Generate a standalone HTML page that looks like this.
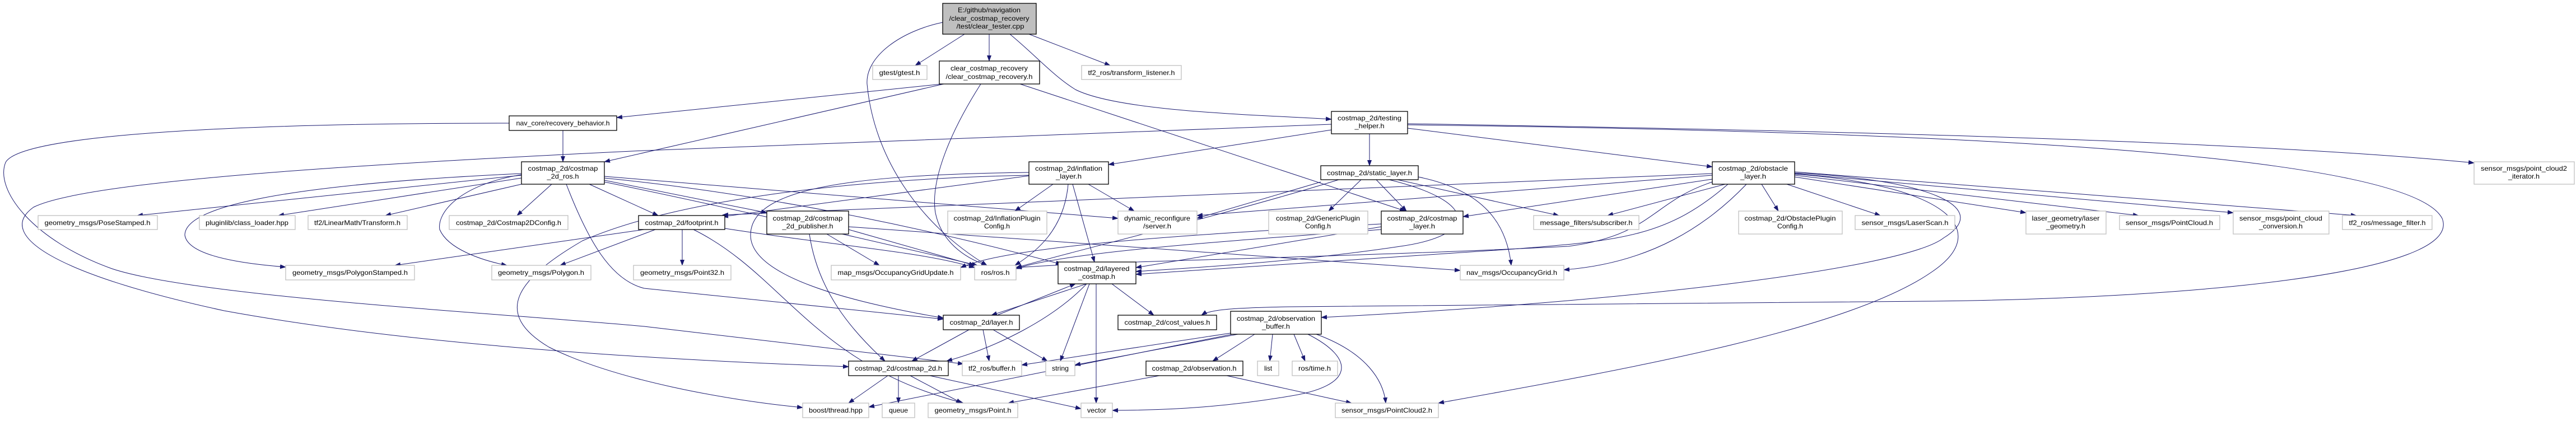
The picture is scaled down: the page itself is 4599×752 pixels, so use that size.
<!DOCTYPE html>
<html><head><meta charset="utf-8">
<style>
html,body{margin:0;padding:0;background:#fff;}
svg{display:block;}
text{font-family:"Liberation Sans",Arial,sans-serif;font-size:12px;fill:#000;}
.i{fill:#fff;stroke:#000;stroke-width:1.3;}
.e{fill:#fff;stroke:#bfbfbf;stroke-width:1.3;}
.r{fill:#bfbfbf;stroke:#000;stroke-width:1.3;}
path.ed{fill:none;stroke:#191970;stroke-width:1;marker-end:url(#a);}
</style></head>
<body>
<svg width="4599" height="752" viewBox="0 0 4599 752" xmlns="http://www.w3.org/2000/svg">
<defs><marker id="a" markerUnits="userSpaceOnUse" markerWidth="11" markerHeight="8" refX="10" refY="4" orient="auto"><path d="M0,0 L11,4 L0,8 z" fill="#191970"/></marker></defs>
<g>
<path class="ed" d="M1722,61 L1634,117"/>
<path class="ed" d="M1766,61 L1766,109"/>
<path class="ed" d="M1837,61 L1982,117"/>
<path class="ed" d="M1683,40 C1610,55 1545,100 1548,150 C1560,280 1640,400 1762,474"/>
<path class="ed" d="M1803,61 C1850,100 1880,135 1920,160 C2000,200 2250,205 2377,213"/>
<path class="ed" d="M1682,150 L1101,210"/>
<path class="ed" d="M1685,150 L1079,289"/>
<path class="ed" d="M1751,150 C1700,230 1660,320 1670,380 C1680,430 1720,460 1762,474"/>
<path class="ed" d="M1821,150 L2509,377"/>
<path class="ed" d="M1005,233 L1005,289"/>
<path class="ed" d="M909,220 C500,220 40,235 10,290 C-10,340 60,430 200,480 C350,530 900,560 1150,583 L1720,650"/>
<path class="ed" d="M931,313 L245,385"/>
<path class="ed" d="M931,318 L497,385"/>
<path class="ed" d="M931,329 L688,385"/>
<path class="ed" d="M985,329 L923,385"/>
<path class="ed" d="M931,310 C500,330 330,370 330,420 C335,455 420,470 510,477"/>
<path class="ed" d="M931,312 C820,330 780,380 785,410 C800,445 860,465 905,474"/>
<path class="ed" d="M1011,329 C1050,430 1090,500 1150,515 L1684,570"/>
<path class="ed" d="M1052,329 L1175,385"/>
<path class="ed" d="M1079,315 L1996,390"/>
<path class="ed" d="M1079,318 C1400,350 1700,420 1895,472"/>
<path class="ed" d="M1079,322 L1369,380"/>
<path class="ed" d="M1079,325 C1300,370 1600,440 1745,474"/>
<path class="ed" d="M2445,239 L2445,296"/>
<path class="ed" d="M2513,229 L3057,298"/>
<path class="ed" d="M2513,221 C3200,232 4000,250 4417,291"/>
<path class="ed" d="M2513,223 C3500,235 4300,275 4360,390 C4400,490 3900,533 3450,538 L2300,548 C2200,550 2160,553 2145,563"/>
<path class="ed" d="M2377,232 L1979,294"/>
<path class="ed" d="M2377,222 L1150,269 C600,295 150,325 60,370 C-10,420 100,490 400,555 C700,610 1100,640 1515,655"/>
<path class="ed" d="M1837,313 C1500,320 1200,360 1040,430 C920,500 880,560 980,620 C1100,680 1300,715 1433,728"/>
<path class="ed" d="M1880,329 L1812,377"/>
<path class="ed" d="M1943,329 L2025,377"/>
<path class="ed" d="M1915,329 L1954,468"/>
<path class="ed" d="M1907,329 C1900,410 1850,450 1812,474"/>
<path class="ed" d="M1837,308 C1500,312 1340,340 1340,420 C1340,500 1550,545 1684,568"/>
<path class="ed" d="M1837,314 L1290,387"/>
<path class="ed" d="M2430,321 L2372,377"/>
<path class="ed" d="M2457,321 L2511,377"/>
<path class="ed" d="M2495,321 L2783,385"/>
<path class="ed" d="M2532,316 C2650,340 2690,400 2698,474"/>
<path class="ed" d="M2358,325 L2137,390"/>
<path class="ed" d="M2390,321 C2200,380 1950,440 1814,478"/>
<path class="ed" d="M2480,321 C2640,360 2640,420 2500,440 C2300,470 2100,480 2028,485"/>
<path class="ed" d="M3145,329 L3175,377"/>
<path class="ed" d="M3190,329 L3357,385"/>
<path class="ed" d="M3204,316 L3617,380"/>
<path class="ed" d="M3204,313 L3818,385"/>
<path class="ed" d="M3204,310 L3987,380"/>
<path class="ed" d="M3204,307 L4207,385"/>
<path class="ed" d="M3080,329 L2870,385"/>
<path class="ed" d="M3118,329 C3050,400 2950,470 2792,482"/>
<path class="ed" d="M3057,320 L2612,387"/>
<path class="ed" d="M3057,313 L2137,385"/>
<path class="ed" d="M3057,310 L1290,384"/>
<path class="ed" d="M3057,325 C2950,360 2950,420 2800,440 C2400,460 2000,465 1814,478"/>
<path class="ed" d="M3085,329 C2980,420 2900,430 2700,445 L2028,490"/>
<path class="ed" d="M3204,309 C3440,320 3560,370 3470,425 C3400,480 2900,540 2359,567"/>
<path class="ed" d="M3204,311 C3470,330 3560,410 3450,485 C3300,590 2900,660 2568,720"/>
<path class="ed" d="M2466,405 L2028,478"/>
<path class="ed" d="M2466,410 C2200,430 1900,450 1814,480"/>
<path class="ed" d="M2466,400 C2100,420 1800,440 1715,478"/>
<path class="ed" d="M1218,410 L1218,474"/>
<path class="ed" d="M1150,410 L705,474"/>
<path class="ed" d="M1170,410 L1000,474"/>
<path class="ed" d="M1294,408 C1500,440 1650,450 1740,478"/>
<path class="ed" d="M1238,410 C1400,490 1450,650 1720,720"/>
<path class="ed" d="M1515,410 L1740,474"/>
<path class="ed" d="M1476,418 L1570,474"/>
<path class="ed" d="M1445,418 C1460,520 1520,590 1580,645"/>
<path class="ed" d="M1515,405 L2607,483"/>
<path class="ed" d="M1940,507 L1770,563"/>
<path class="ed" d="M1780,563 L1920,507"/>
<path class="ed" d="M1985,507 L2060,563"/>
<path class="ed" d="M1957,507 L1957,720"/>
<path class="ed" d="M1945,507 L1893,645"/>
<path class="ed" d="M1940,507 C1880,570 1780,620 1690,645"/>
<path class="ed" d="M1730,589 L1628,645"/>
<path class="ed" d="M1755,589 L1766,645"/>
<path class="ed" d="M1773,589 L1870,645"/>
<path class="ed" d="M2197,595 L1824,652"/>
<path class="ed" d="M2210,597 L1919,652"/>
<path class="ed" d="M2240,597 L2165,645"/>
<path class="ed" d="M2272,597 L2267,645"/>
<path class="ed" d="M2310,597 L2330,645"/>
<path class="ed" d="M2350,597 C2440,630 2470,680 2474,720"/>
<path class="ed" d="M2200,597 L1551,727"/>
<path class="ed" d="M2335,597 C2420,640 2420,690 2300,708 C2200,725 2100,733 1986,733"/>
<path class="ed" d="M2070,671 L1800,720"/>
<path class="ed" d="M2190,671 L2413,720"/>
<path class="ed" d="M1585,671 L1515,720"/>
<path class="ed" d="M1604,671 L1604,720"/>
<path class="ed" d="M1625,671 L1717,720"/>
<path class="ed" d="M1660,671 L1930,730"/>
</g>
<g text-anchor="middle">
<rect class="r" x="1683" y="6" width="167" height="55"/>
<text x="1766" y="22" textLength="112" lengthAdjust="spacingAndGlyphs">E:/github/navigation</text>
<text x="1766" y="37" textLength="143" lengthAdjust="spacingAndGlyphs">/clear_costmap_recovery</text>
<text x="1768" y="51" textLength="121" lengthAdjust="spacingAndGlyphs">/test/clear_tester.cpp</text>

<rect class="e" x="1558" y="117" width="97" height="25"/><text x="1606" y="134" textLength="73" lengthAdjust="spacingAndGlyphs">gtest/gtest.h</text>
<rect class="i" x="1677" y="109" width="179" height="41"/><text x="1766" y="126" textLength="138" lengthAdjust="spacingAndGlyphs">clear_costmap_recovery</text><text x="1766" y="141" textLength="155" lengthAdjust="spacingAndGlyphs">/clear_costmap_recovery.h</text>
<rect class="e" x="1931" y="117" width="178" height="25"/><text x="2020" y="134" textLength="155" lengthAdjust="spacingAndGlyphs">tf2_ros/transform_listener.h</text>
<rect class="i" x="909" y="207" width="192" height="26"/><text x="1005" y="224" textLength="167" lengthAdjust="spacingAndGlyphs">nav_core/recovery_behavior.h</text>
<rect class="i" x="2377" y="199" width="136" height="40"/><text x="2445" y="215" textLength="114" lengthAdjust="spacingAndGlyphs">costmap_2d/testing</text><text x="2445" y="229" textLength="53" lengthAdjust="spacingAndGlyphs">_helper.h</text>
<rect class="i" x="931" y="289" width="148" height="40"/><text x="1005" y="305" textLength="125" lengthAdjust="spacingAndGlyphs">costmap_2d/costmap</text><text x="1005" y="319" textLength="57" lengthAdjust="spacingAndGlyphs">_2d_ros.h</text>
<rect class="i" x="1837" y="289" width="142" height="40"/><text x="1908" y="305" textLength="120" lengthAdjust="spacingAndGlyphs">costmap_2d/inflation</text><text x="1908" y="319" textLength="46" lengthAdjust="spacingAndGlyphs">_layer.h</text>
<rect class="i" x="2358" y="296" width="174" height="25"/><text x="2445" y="313" textLength="152" lengthAdjust="spacingAndGlyphs">costmap_2d/static_layer.h</text>
<rect class="i" x="3057" y="289" width="147" height="40"/><text x="3130" y="305" textLength="124" lengthAdjust="spacingAndGlyphs">costmap_2d/obstacle</text><text x="3130" y="319" textLength="46" lengthAdjust="spacingAndGlyphs">_layer.h</text>
<rect class="e" x="4417" y="289" width="179" height="40"/><text x="4506" y="305" textLength="154" lengthAdjust="spacingAndGlyphs">sensor_msgs/point_cloud2</text><text x="4506" y="319" textLength="56" lengthAdjust="spacingAndGlyphs">_iterator.h</text>

<rect class="e" x="68" y="385" width="213" height="25"/><text x="174" y="402" textLength="189" lengthAdjust="spacingAndGlyphs">geometry_msgs/PoseStamped.h</text>
<rect class="e" x="356" y="385" width="171" height="25"/><text x="441" y="402" textLength="148" lengthAdjust="spacingAndGlyphs">pluginlib/class_loader.hpp</text>
<rect class="e" x="550" y="385" width="177" height="25"/><text x="638" y="402" textLength="154" lengthAdjust="spacingAndGlyphs">tf2/LinearMath/Transform.h</text>
<rect class="e" x="802" y="385" width="212" height="25"/><text x="908" y="402" textLength="188" lengthAdjust="spacingAndGlyphs">costmap_2d/Costmap2DConfig.h</text>
<rect class="i" x="1140" y="385" width="154" height="25"/><text x="1217" y="402" textLength="131" lengthAdjust="spacingAndGlyphs">costmap_2d/footprint.h</text>
<rect class="i" x="1369" y="377" width="146" height="41"/><text x="1442" y="394" textLength="125" lengthAdjust="spacingAndGlyphs">costmap_2d/costmap</text><text x="1442" y="408" textLength="91" lengthAdjust="spacingAndGlyphs">_2d_publisher.h</text>
<rect class="e" x="1692" y="377" width="177" height="41"/><text x="1780" y="394" textLength="155" lengthAdjust="spacingAndGlyphs">costmap_2d/InflationPlugin</text><text x="1780" y="408" textLength="46" lengthAdjust="spacingAndGlyphs">Config.h</text>
<rect class="e" x="1996" y="377" width="141" height="41"/><text x="2066" y="394" textLength="118" lengthAdjust="spacingAndGlyphs">dynamic_reconfigure</text><text x="2066" y="408" textLength="50" lengthAdjust="spacingAndGlyphs">/server.h</text>
<rect class="e" x="2265" y="377" width="177" height="41"/><text x="2353" y="394" textLength="150" lengthAdjust="spacingAndGlyphs">costmap_2d/GenericPlugin</text><text x="2353" y="408" textLength="46" lengthAdjust="spacingAndGlyphs">Config.h</text>
<rect class="i" x="2466" y="377" width="146" height="41"/><text x="2539" y="394" textLength="125" lengthAdjust="spacingAndGlyphs">costmap_2d/costmap</text><text x="2539" y="408" textLength="46" lengthAdjust="spacingAndGlyphs">_layer.h</text>
<rect class="e" x="2738" y="385" width="188" height="25"/><text x="2832" y="402" textLength="165" lengthAdjust="spacingAndGlyphs">message_filters/subscriber.h</text>
<rect class="e" x="3104" y="377" width="185" height="41"/><text x="3196" y="394" textLength="163" lengthAdjust="spacingAndGlyphs">costmap_2d/ObstaclePlugin</text><text x="3196" y="408" textLength="46" lengthAdjust="spacingAndGlyphs">Config.h</text>
<rect class="e" x="3312" y="385" width="178" height="25"/><text x="3401" y="402" textLength="155" lengthAdjust="spacingAndGlyphs">sensor_msgs/LaserScan.h</text>
<rect class="e" x="3617" y="377" width="143" height="41"/><text x="3688" y="394" textLength="121" lengthAdjust="spacingAndGlyphs">laser_geometry/laser</text><text x="3688" y="408" textLength="70" lengthAdjust="spacingAndGlyphs">_geometry.h</text>
<rect class="e" x="3784" y="385" width="179" height="25"/><text x="3873" y="402" textLength="156" lengthAdjust="spacingAndGlyphs">sensor_msgs/PointCloud.h</text>
<rect class="e" x="3987" y="377" width="171" height="41"/><text x="4072" y="394" textLength="148" lengthAdjust="spacingAndGlyphs">sensor_msgs/point_cloud</text><text x="4072" y="408" textLength="78" lengthAdjust="spacingAndGlyphs">_conversion.h</text>
<rect class="e" x="4182" y="385" width="160" height="25"/><text x="4262" y="402" textLength="137" lengthAdjust="spacingAndGlyphs">tf2_ros/message_filter.h</text>

<rect class="e" x="510" y="474" width="230" height="26"/><text x="625" y="491" textLength="206" lengthAdjust="spacingAndGlyphs">geometry_msgs/PolygonStamped.h</text>
<rect class="e" x="878" y="474" width="177" height="26"/><text x="966" y="491" textLength="154" lengthAdjust="spacingAndGlyphs">geometry_msgs/Polygon.h</text>
<rect class="e" x="1131" y="474" width="174" height="26"/><text x="1218" y="491" textLength="150" lengthAdjust="spacingAndGlyphs">geometry_msgs/Point32.h</text>
<rect class="e" x="1484" y="474" width="231" height="26"/><text x="1599" y="491" textLength="207" lengthAdjust="spacingAndGlyphs">map_msgs/OccupancyGridUpdate.h</text>
<rect class="e" x="1740" y="474" width="74" height="26"/><text x="1777" y="491" textLength="51" lengthAdjust="spacingAndGlyphs">ros/ros.h</text>
<rect class="i" x="1889" y="468" width="139" height="39"/><text x="1958" y="484" textLength="117" lengthAdjust="spacingAndGlyphs">costmap_2d/layered</text><text x="1958" y="498" textLength="66" lengthAdjust="spacingAndGlyphs">_costmap.h</text>
<rect class="e" x="2607" y="474" width="185" height="26"/><text x="2699" y="491" textLength="162" lengthAdjust="spacingAndGlyphs">nav_msgs/OccupancyGrid.h</text>

<rect class="i" x="1684" y="563" width="136" height="26"/><text x="1752" y="580" textLength="113" lengthAdjust="spacingAndGlyphs">costmap_2d/layer.h</text>
<rect class="i" x="1996" y="563" width="176" height="26"/><text x="2084" y="580" textLength="153" lengthAdjust="spacingAndGlyphs">costmap_2d/cost_values.h</text>
<rect class="i" x="2197" y="556" width="162" height="41"/><text x="2278" y="573" textLength="140" lengthAdjust="spacingAndGlyphs">costmap_2d/observation</text><text x="2278" y="587" textLength="50" lengthAdjust="spacingAndGlyphs">_buffer.h</text>

<rect class="i" x="1515" y="645" width="178" height="26"/><text x="1604" y="662" textLength="156" lengthAdjust="spacingAndGlyphs">costmap_2d/costmap_2d.h</text>
<rect class="e" x="1718" y="645" width="106" height="26"/><text x="1771" y="662" textLength="84" lengthAdjust="spacingAndGlyphs">tf2_ros/buffer.h</text>
<rect class="e" x="1867" y="645" width="52" height="26"/><text x="1893" y="662" textLength="30" lengthAdjust="spacingAndGlyphs">string</text>
<rect class="i" x="2046" y="645" width="173" height="26"/><text x="2132" y="662" textLength="151" lengthAdjust="spacingAndGlyphs">costmap_2d/observation.h</text>
<rect class="e" x="2245" y="645" width="38" height="26"/><text x="2264" y="662" textLength="14" lengthAdjust="spacingAndGlyphs">list</text>
<rect class="e" x="2307" y="645" width="81" height="26"/><text x="2347" y="662" textLength="58" lengthAdjust="spacingAndGlyphs">ros/time.h</text>

<rect class="e" x="1433" y="720" width="118" height="26"/><text x="1492" y="737" textLength="96" lengthAdjust="spacingAndGlyphs">boost/thread.hpp</text>
<rect class="e" x="1575" y="720" width="58" height="26"/><text x="1604" y="737" textLength="34" lengthAdjust="spacingAndGlyphs">queue</text>
<rect class="e" x="1657" y="720" width="160" height="26"/><text x="1737" y="737" textLength="137" lengthAdjust="spacingAndGlyphs">geometry_msgs/Point.h</text>
<rect class="e" x="1930" y="720" width="56" height="26"/><text x="1958" y="737" textLength="34" lengthAdjust="spacingAndGlyphs">vector</text>
<rect class="e" x="2384" y="720" width="184" height="26"/><text x="2476" y="737" textLength="162" lengthAdjust="spacingAndGlyphs">sensor_msgs/PointCloud2.h</text>
</g>
</svg>
</body></html>
